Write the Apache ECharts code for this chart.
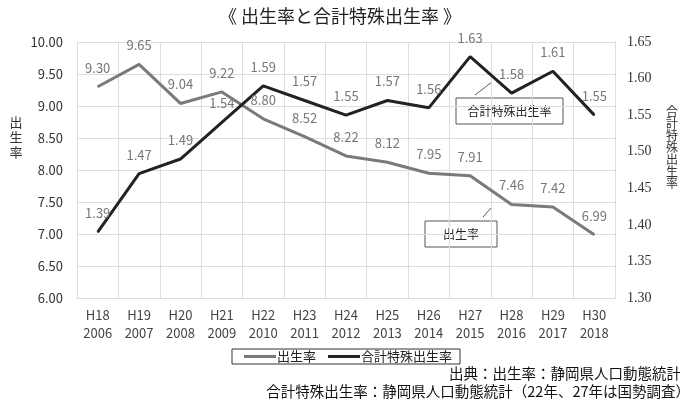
<!DOCTYPE html>
<html><head><meta charset="utf-8">
<script src="https://cdn.jsdelivr.net/npm/echarts@6/dist/echarts.min.js"></script>
<style>html,body{margin:0;padding:0;background:#fff}#c{width:680px;height:406px}</style>
</head><body><div id="c"></div>
<script>
const categories = ['H18\n2006','H19\n2007','H20\n2008','H21\n2009','H22\n2010','H23\n2011','H24\n2012','H25\n2013','H26\n2014','H27\n2015','H28\n2016','H29\n2017','H30\n2018'];
const birthRate = [9.30, 9.65, 9.04, 9.22, 8.80, 8.52, 8.22, 8.12, 7.95, 7.91, 7.46, 7.42, 6.99];
const fertilityRate = [1.39, 1.47, 1.49, 1.54, 1.59, 1.57, 1.55, 1.57, 1.56, 1.63, 1.58, 1.61, 1.55];
const leftAxisName = '出生率';
const rightAxisName = '合計特殊出生率';
const FONT = '"Noto Sans CJK JP", "Noto Sans", sans-serif';

function verticalText(str, cx, y0, step, size) {
  return str.split('').map((ch, i) => ({
    type:'text', x:cx, y:y0 + i*step,
    style:{text:ch, font:size+'px '+FONT, fill:'#333', align:'center', verticalAlign:'middle'}
  }));
}

const chart = echarts.init(document.getElementById('c'), null, {renderer:'canvas'});
chart.setOption({
  animation:false,
  textStyle:{fontFamily:FONT},
  title:{text:'《 出生率と合計特殊出生率 》', left:'center', top:2, textStyle:{fontSize:18, fontWeight:'normal', color:'#222', fontFamily:FONT}},
  grid:{left:77, right:65, top:42, bottom:108},
  legend:{
    data:['出生率','合計特殊出生率'], left:232, top:349, width:228, height:18,
    borderColor:'#333', borderWidth:1, padding:[1,8,1,12], itemGap:12,
    icon:'rect', itemWidth:32, itemHeight:3,
    textStyle:{fontSize:13, color:'#222', padding:[0,0,0,-4]}
  },
  xAxis:{type:'category', data:categories, boundaryGap:true,
    axisLine:{show:true, lineStyle:{color:'#ddd'}}, axisTick:{show:false},
    splitLine:{show:true, lineStyle:{color:'#ddd'}},
    axisLabel:{fontSize:13, color:'#444', lineHeight:18, margin:8, interval:0}},
  yAxis:[
    {type:'value', min:6, max:10, interval:0.5,
     axisLine:{show:false}, axisTick:{show:false},
     splitLine:{lineStyle:{color:'#ddd'}},
     axisLabel:{fontSize:13, color:'#333', margin:14, formatter:v=>v.toFixed(2)}},
    {type:'value', min:1.30, max:1.65, interval:0.05,
     axisLine:{show:true, lineStyle:{color:'#ddd'}}, axisTick:{show:false},
     splitLine:{show:false},
     axisLabel:{fontSize:14, color:'#333', margin:12, fontFamily:'"Liberation Serif", serif', formatter:v=>v.toFixed(2)}}
  ],
  series:[
    {name:'出生率', type:'line', yAxisIndex:0, data:birthRate, symbol:'circle', symbolSize:1, showSymbol:true,
     lineStyle:{color:'#7a7a7a', width:3}, itemStyle:{color:'#7a7a7a'},
     labelLayout:{hideOverlap:false},
     label:{show:true, position:'top', distance:12, fontSize:13, color:'#777', formatter:p=>p.value.toFixed(2)}},
    {name:'合計特殊出生率', type:'line', yAxisIndex:1, data:fertilityRate, symbol:'circle', symbolSize:1, showSymbol:true,
     lineStyle:{color:'#222', width:3}, itemStyle:{color:'#222'},
     labelLayout:{hideOverlap:false},
     label:{show:true, position:'top', distance:12, fontSize:13, color:'#777', formatter:p=>p.value.toFixed(2)}}
  ],
  graphic: [
    ...verticalText(leftAxisName, 16, 122, 15, 13),
    ...verticalText(rightAxisName, 672, 111, 12, 12),
    {type:'rect', shape:{x:456, y:98, width:107, height:26}, style:{fill:'#fff', stroke:'#555', lineWidth:1}},
    {type:'text', x:509.5, y:111, style:{text:'合計特殊出生率', font:'12px '+FONT, fill:'#222', align:'center', verticalAlign:'middle'}},
    {type:'line', shape:{x1:475, y1:95, x2:492, y2:82}, style:{stroke:'#555', lineWidth:1}},
    {type:'rect', shape:{x:425, y:221, width:72, height:26}, style:{fill:'#fff', stroke:'#555', lineWidth:1}},
    {type:'text', x:461, y:234, style:{text:'出生率', font:'12px '+FONT, fill:'#222', align:'center', verticalAlign:'middle'}},
    {type:'line', shape:{x1:483, y1:217, x2:492, y2:207}, style:{stroke:'#555', lineWidth:1}},
    {type:'text', x:681, y:373, style:{text:'出典：出生率：静岡県人口動態統計', font:'14.5px '+FONT, fill:'#111', align:'right', verticalAlign:'middle'}},
    {type:'text', x:690, y:391, style:{text:'合計特殊出生率：静岡県人口動態統計（22年、27年は国勢調査）', font:'14.5px '+FONT, fill:'#111', align:'right', verticalAlign:'middle'}}
  ]
});
</script></body></html>
